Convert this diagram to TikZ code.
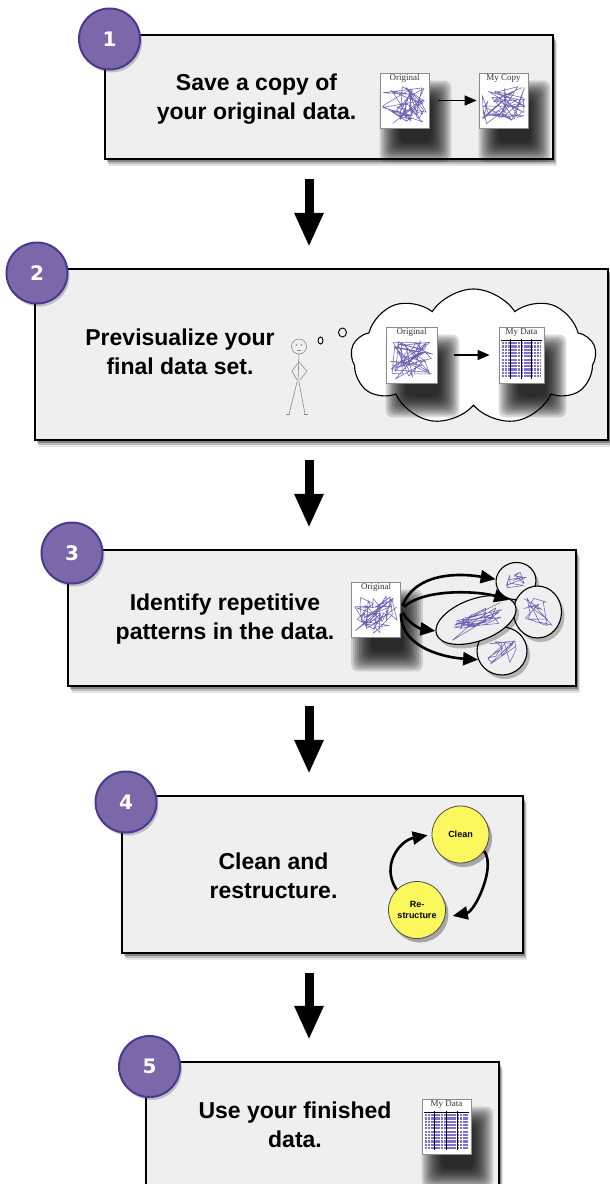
\documentclass[tikz,border=0pt]{standalone}
\usepackage{fontspec}
\setmainfont{Liberation Sans}
\newfontfamily\docfont{Liberation Serif}
\newfontfamily\numfont{DejaVu Sans}
\usetikzlibrary{positioning}
\usetikzlibrary{arrows.meta,shapes.geometric,shapes.symbols,shadows}

\definecolor{boxgray}{HTML}{EFEFEF}
\definecolor{badgefill}{HTML}{7A68AB}
\definecolor{badgeedge}{HTML}{4B3990}
\definecolor{scribcol}{HTML}{7062B2}
\definecolor{gridcol}{HTML}{7E70D0}
\definecolor{cleanfill}{HTML}{FBF85E}

\pgfdeclarelayer{boxes}
\pgfdeclarelayer{shade}
\pgfsetlayers{boxes,shade,main}

\tikzset{
  stepbox/.style={draw, line width=2.2pt, fill=boxgray, inner sep=0pt,
    drop shadow={shadow xshift=4pt, shadow yshift=-7pt, opacity=.1, fill=black},
    drop shadow={shadow xshift=3pt, shadow yshift=-5pt, opacity=.18, fill=black},
    drop shadow={shadow xshift=1.5pt, shadow yshift=-3pt, opacity=.3, fill=black}},
  badge/.style={circle, draw=badgeedge, line width=2pt, fill=badgefill,
    minimum size=61pt, inner sep=0pt, text=white,
    font=\numfont\bfseries\fontsize{20}{20}\selectfont,
    drop shadow={shadow xshift=2pt, shadow yshift=-3pt, opacity=.2, fill=black}},
  steptext/.style={align=center, font=\bfseries\fontsize{23}{29.5}\selectfont},
  flow/.style={line width=9pt, -{Triangle[width=27pt,length=34pt]},
    shorten <=19pt, shorten >=21pt},
  doc/.style={draw=black!45, line width=.8pt, fill=white, inner sep=0pt,
    minimum width=49pt, minimum height=55pt},
  doctitle/.style={anchor=north, inner sep=1.5pt, text=black!80,
    font=\docfont\fontsize{9}{10}\selectfont},
  scrib/.style={draw=scribcol, line width=.55pt, line join=round},
  link/.style={line width=1.3pt, -{Triangle[width=10pt,length=12pt]}},
  curly/.style={line width=2.6pt, -{Triangle[width=13pt,length=15pt]}},
  dream/.style={cloud, cloud puffs=9, cloud puff arc=115, cloud ignores aspect,
    draw, line width=1.1pt, fill=white, inner sep=0pt,
    minimum width=245pt, minimum height=136pt},
  blob/.style={ellipse, draw, line width=1.1pt, fill=boxgray, inner sep=0pt,
    drop shadow={shadow xshift=3pt, shadow yshift=-4pt, opacity=.25, fill=black}},
  task/.style={circle, draw=black!70, line width=.8pt, fill=cleanfill,
    minimum size=57pt, inner sep=0pt, align=center,
    font=\bfseries\fontsize{9}{10.5}\selectfont,
    drop shadow={shadow xshift=3pt, shadow yshift=-4pt, opacity=.3, fill=black}},
}

% soft dark shadow behind a sheet of data
\newcommand{\docshade}[1]{%
  \begin{pgfonlayer}{shade}
    \foreach \k in {0,...,10}
      \fill[black, opacity=.14, rounded corners=7pt]
        ([shift={(2*\k,8+2*\k)}]#1.north west) rectangle ([shift={(22-2*\k,34-2*\k)}]#1.south east);
  \end{pgfonlayer}}

% tangled lines: centre, half width, half height, strokes
\newcommand{\scribble}[4]{%
  \draw[scrib, shift={#1}] (rand*#2, rand*#3) \foreach \i in {1,...,#4}{ -- (rand*#2, rand*#3)};}

% tidy table on a sheet: node, width, height
\newcommand{\datagrid}[3]{%
  \begin{scope}[shift={(#1.north west)}]
    \foreach \r in {0,...,10}
      \draw[gridcol, line width=2.2pt, dash pattern=on 2.6pt off .6pt] (3,16.5+3.3*\r) -- (#2-3,16.5+3.3*\r);
    \draw[line width=.8pt] (2,14) -- (#2-2,14);
    \foreach \f in {.27,.5,.73}
      \draw[line width=.8pt] (\f*#2,12.5) -- (\f*#2,#3-4);
  \end{scope}}

\begin{document}
\begin{tikzpicture}[x=1pt, y=-1pt]
\pgfmathsetseed{11}
\useasboundingbox (0,0) rectangle (610,1184);

% boxes and the thought cloud go underneath
\begin{pgfonlayer}{boxes}
  \node[stepbox, minimum width=448pt, minimum height=124pt] (step1) at (329,97) {};
  \node[stepbox, minimum width=573pt, minimum height=171pt] (step2) at (321.5,354.5) {};
  \node[stepbox, minimum width=508pt, minimum height=136pt] (step3) at (322,618) {};
  \node[stepbox, minimum width=401pt, minimum height=157pt] (step4) at (322.5,874.5) {};
  \node[stepbox, minimum width=353pt, minimum height=153pt] (step5) at (322.5,1138.5) {};
  \node[dream] (dream) at (473.5,357) {};
\end{pgfonlayer}

\node[badge] (badge1) at (109.5,39) {1};
\node[badge] (badge2) at (37,273) {2};
\node[badge] (badge3) at (72,553) {3};
\node[badge] (badge4) at (126,802) {4};
\node[badge] (badge5) at (149.5,1066.5) {5};

\node[steptext] (say1) at (256.5,99) {Save a copy of\\your original data.};
\node[steptext] (say2) at (180,352) {Previsualize your\\final data set.};
\node[steptext] (say3) at (225,619) {Identify repetitive\\patterns in the data.};
\node[steptext] (say4) at (273.5,876) {Clean and\\restructure.};
\node[steptext] (say5) at (295,1125) {Use your finished\\data.};

% step 1: copy the raw sheet
\node[doc, label={[doctitle]north:Original}] (orig1) at (404.5,100.5) {};
\node[doc, label={[doctitle]north:My Copy}] (copy1) at (503.5,100.5) {};
\docshade{orig1}
\docshade{copy1}
\scribble{([yshift=-5pt]orig1.center)}{22}{19}{50}
\scribble{([yshift=-5pt]copy1.center)}{22}{19}{50}
\draw[link, shorten <=9pt, shorten >=2pt] (orig1) -- (copy1);

% step 2: the thinker and his cloud
\begin{scope}[color=black!45, line width=.6pt]
  \draw (299,346.5) circle[radius=7.5];
  \fill (296.5,345) circle[radius=.8] (301.5,345) circle[radius=.8];
  \draw (297,350) -- (301,350);
  \draw (299,354) -- (298,382);
  \draw (299,362) -- (292,371) -- (297,380);
  \draw (299,362) -- (307,371) -- (300,380);
  \draw (297,382) -- (289,414) (299,382) -- (305,414);
  \draw (286,414) -- (290,414) (304,414) -- (308,414);
\end{scope}
\draw[line width=.9pt] (320.5,340.5) ellipse[x radius=2.5, y radius=3.5];
\draw[line width=.9pt] (342.5,332.5) ellipse[x radius=4, y radius=4.5];

\node[doc, minimum width=51pt, minimum height=56pt, label={[doctitle]north:Original}] (orig2) at (411.5,355) {};
\node[doc, minimum width=45pt, minimum height=56pt, label={[doctitle]north:My Data}] (mydata2) at (521.5,355) {};
\docshade{orig2}
\docshade{mydata2}
\scribble{([yshift=-5pt]orig2.center)}{23}{19}{50}
\datagrid{mydata2}{45}{56}
\draw[link, shorten <=17pt, shorten >=9pt] (orig2) -- (mydata2);

% step 3: pull the patterns apart
\node[doc, label={[doctitle]north:Original}] (orig3) at (376,609.5) {};
\docshade{orig3}
\scribble{([yshift=-5pt]orig3.center)}{22}{19}{50}

\node[blob, minimum width=40pt, minimum height=37pt, rotate=10] (blobtop) at (516,581) {};
\scribble{(blobtop.center)}{12}{11}{14}
\node[blob, minimum width=48pt, minimum height=52pt] (blobright) at (537.5,612) {};
\scribble{(blobright.center)}{15}{15}{16}
\node[blob, minimum width=50pt, minimum height=48pt] (blobbot) at (502,651) {};
\scribble{(blobbot.center)}{15}{14}{18}
\node[blob, minimum width=84pt, minimum height=42pt, rotate=20] (blobmid) at (476,620) {};
\draw[scrib, shift={(blobmid.center)}, rotate=20] (rand*30, rand*11) \foreach \i in {1,...,34}{ -- (rand*30, rand*11)};

\draw[curly, shorten <=4pt] (orig3.east) .. controls +(15,-38) and +(-35,-6) .. (blobtop.165);
\draw[curly, shorten <=4pt, shorten >=6pt] (orig3.east) .. controls +(25,-22) and +(-35,-10) .. (blobright.155);
\draw[curly, shorten <=4pt] (orig3.east) .. controls +(8,14) and +(-15,-2) .. (blobmid.175);
\draw[curly, shorten <=4pt] (orig3.east) .. controls +(0,40) and +(-30,-2) .. (blobbot.200);

% step 4: clean / restructure loop
\node[task] (cleanup) at (460.5,834.5) {Clean};
\node[task] (restruct) at (417,910) {Re-\\structure};
\draw[curly, shorten >=4pt] (restruct.135) .. controls +(-16,-24) and +(-32,6) .. (cleanup.west);
\draw[curly, shorten >=8pt] (cleanup.-35) .. controls +(12,16) and +(30,-6) .. (restruct.-15);

% step 5: the finished table
\node[doc, label={[doctitle]north:My Data}] (mydata5) at (446.5,1126.5) {};
\docshade{mydata5}
\datagrid{mydata5}{49}{55}

% big arrows between the steps
\coordinate (spine) at (309,0);
\foreach \a/\b in {step1/step2, step2/step3, step3/step4, step4/step5}
  \draw[flow] (\a.south -| spine) -- (\b.north -| spine);

\end{tikzpicture}
\end{document}
